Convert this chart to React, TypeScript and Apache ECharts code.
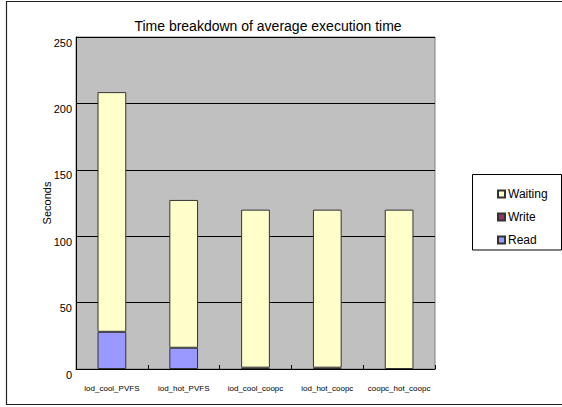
import React, { useEffect, useRef } from "react";
import * as echarts from "echarts";

const categories = ["iod_cool_PVFS", "iod_hot_PVFS", "iod_cool_coopc", "iod_hot_coopc", "coopc_hot_coopc"];
const readValues = [28, 16, null, null, null];
const writeValues = [null, null, 1, 1, null];
const waitingValues = [180.5, 111.3, 119, 119, 120];
const yTicks = { min: 0, max: 250, interval: 50 };

const FONT = "'Liberation Sans', Arial, sans-serif";

export default function App() {
  const ref = useRef<HTMLDivElement>(null);
  useEffect(() => {
    if (!ref.current) return;
    const chart = echarts.init(ref.current, null, { renderer: "svg" });
    const barStyle = (color: string) => ({ color, borderColor: "#333", borderWidth: 1 });
    chart.setOption({
      animation: false,
      backgroundColor: "#fff",
      textStyle: { fontFamily: FONT },
      graphic: [
        {
          type: "rect",
          shape: { x: 6.5, y: 1.5, width: 600, height: 403 },
          style: { fill: "none", stroke: "#222", lineWidth: 1.2 },
          silent: true,
          z: -10,
        },
        {
          type: "rect",
          shape: { x: 472.5, y: 174.5, width: 89, height: 75.5 },
          style: { fill: "#fff", stroke: "#000", lineWidth: 1 },
          silent: true,
          z: -5,
        },
        {
          type: "text",
          x: 268,
          y: 26,
          style: {
            text: "Time breakdown of average execution time",
            fontFamily: FONT,
            fontSize: 14,
            fill: "#000",
            textAlign: "center",
            textVerticalAlign: "middle",
          },
        },
      ],
      legend: {
        data: ["Waiting", "Write", "Read"],
        orient: "vertical",
        left: 472,
        top: 174,
        padding: [14, 5, 2, 25],
        itemGap: 11,
        itemWidth: 7,
        itemHeight: 7,
        icon: "rect",
        borderWidth: 0,
        textStyle: { fontFamily: FONT, fontSize: 12, color: "#000", padding: [0, 0, 0, -2] },
      },
      grid: {
        left: 76,
        right: 127,
        top: 37,
        bottom: 38,
        show: true,
        backgroundColor: "#C0C0C0",
        borderColor: "#808080",
        borderWidth: 1,
      },
      xAxis: {
        type: "category",
        data: categories,
        axisLine: { lineStyle: { color: "#000", width: 1 } },
        axisTick: { show: true, inside: true, length: 4, lineStyle: { color: "#000" } },
        axisLabel: { fontFamily: FONT, fontSize: 8, color: "#000", margin: 15, interval: 0 },
      },
      yAxis: {
        type: "value",
        min: yTicks.min,
        max: yTicks.max,
        interval: yTicks.interval,
        name: "Seconds",
        nameLocation: "middle",
        nameGap: 24,
        nameMoveOverlap: false,
        nameTextStyle: { fontFamily: FONT, fontSize: 11, color: "#000" },
        axisLine: { show: true, lineStyle: { color: "#000", width: 1 } },
        axisTick: { show: false },
        splitLine: { show: true, lineStyle: { color: "#000", width: 1 } },
        axisLabel: { fontFamily: FONT, fontSize: 11, color: "#000", margin: 4, verticalAlign: "top" },
      },
      series: [
        { name: "Read", type: "bar", stack: "total", barWidth: "40%", data: readValues, itemStyle: barStyle("#9999FF") },
        { name: "Write", type: "bar", stack: "total", barWidth: "40%", data: writeValues, itemStyle: barStyle("#993366") },
        { name: "Waiting", type: "bar", stack: "total", barWidth: "40%", data: waitingValues, itemStyle: barStyle("#FFFFCC") },
      ],
    });
    return () => chart.dispose();
  }, []);
  return (
    <div
      ref={ref}
      style={{ width: 562, height: 407, position: "absolute", left: 0, top: 0, overflow: "hidden" }}
    />
  );
}
